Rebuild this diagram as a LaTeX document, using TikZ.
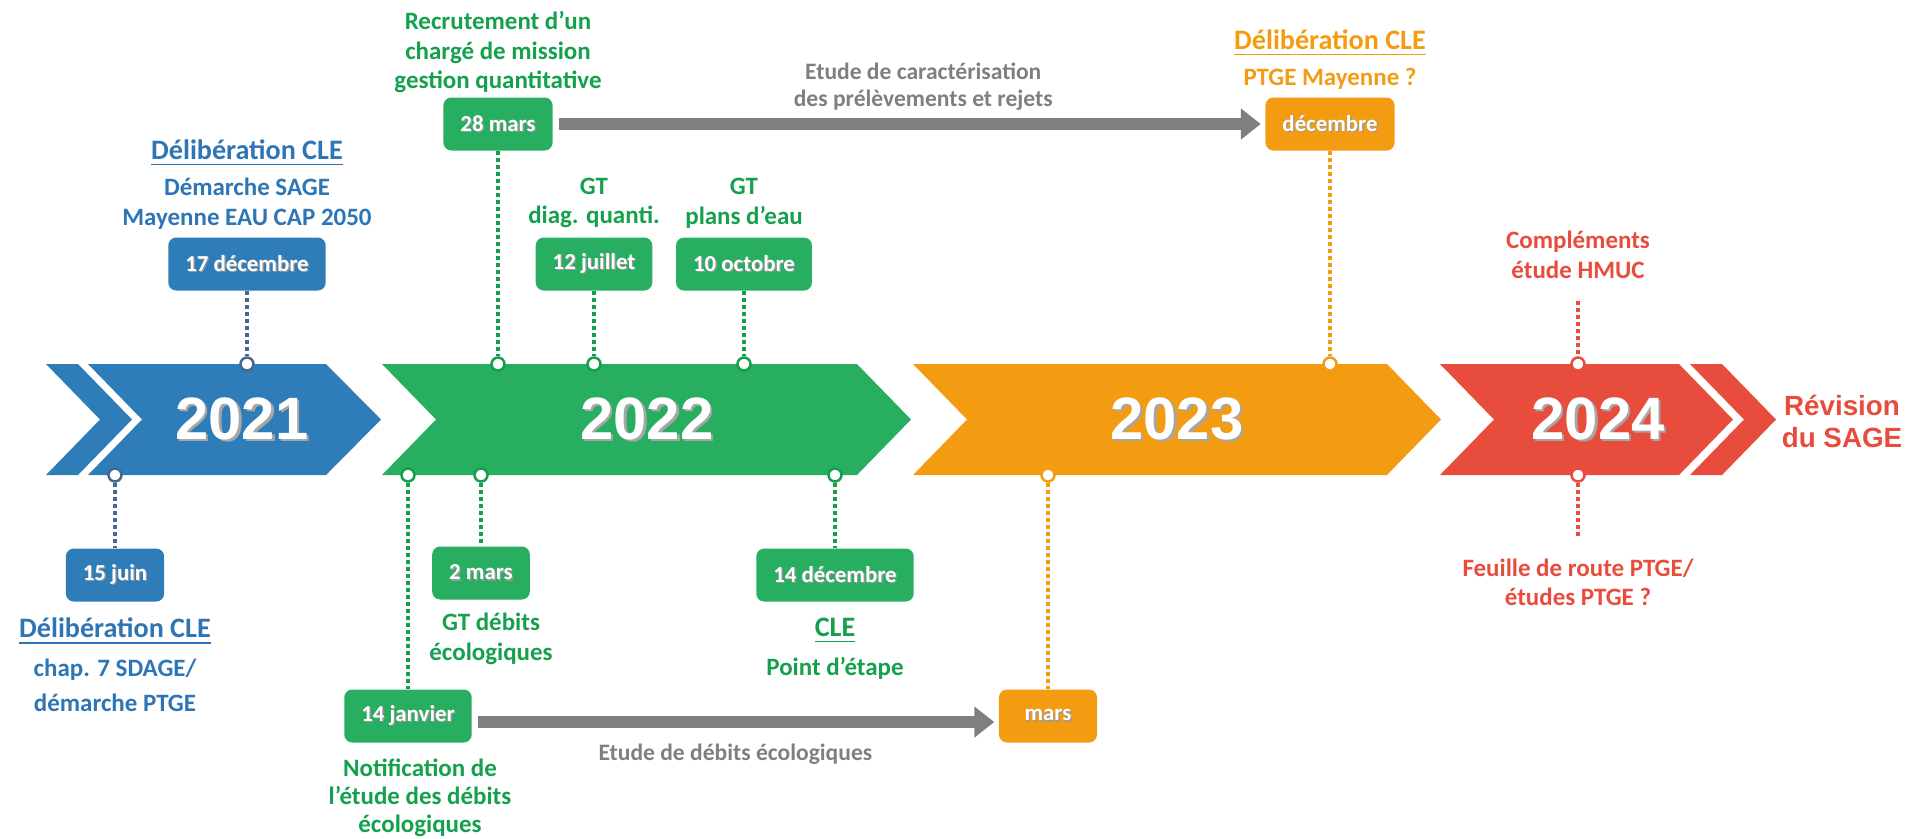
\documentclass[tikz,border=0pt]{standalone}
\usepackage{fontspec}
\setmainfont{Carlito}
\newfontfamily\arialfont{Liberation Sans}
\usetikzlibrary{positioning,arrows.meta}
\definecolor{cblue}{HTML}{2E7DB8}
\definecolor{cbluetxt}{HTML}{2E75B6}
\definecolor{cbluedk}{HTML}{44688F}
\definecolor{cgreen}{HTML}{27AE60}
\definecolor{cgreentxt}{HTML}{14A04C}
\definecolor{corange}{HTML}{F39C12}
\definecolor{cred}{HTML}{E74C3C}
\definecolor{cgray}{HTML}{7F7F7F}
\newcommand\yshadow[1]{\rlap{\kern0.7pt\raisebox{-0.7pt}{\color{black!35}#1}}#1}
\newcommand\bsh[1]{\rlap{\kern0.35pt\raisebox{-0.35pt}{\color{black!40}#1}}#1}

\begin{document}
\begin{tikzpicture}[x=0.01cm, y=-0.01cm,
  yr/.style={text=white, font=\arialfont\bfseries\fontsize{17}{17}\selectfont},
  box/.style={rounded corners=0.08cm, minimum height=0.53cm, minimum width=0.92cm, inner xsep=0.17cm, text=white, font=\bfseries\fontsize{6.5}{7}\selectfont},
  lbl/.style={align=center, inner sep=0, font=\bfseries\fontsize{7.1}{8.4}\selectfont},
  head/.style={inner sep=0, font=\bfseries\fontsize{8}{9}\selectfont},
  gtxt/.style={align=center, inner sep=0, text=cgray, font=\bfseries\fontsize{6.7}{7.6}\selectfont},
  pinpt/.style={circle, fill=white, line width=0.025cm, minimum size=0.13cm, inner sep=0},
  dotln/.style={line width=0.035cm, dash pattern=on 0.04cm off 0.03cm},
  garrow/.style={cgray, line width=0.12cm, -{Triangle[length=0.2cm, width=0.3cm]}, shorten <=0.06cm, shorten >=0.04cm}]
  \useasboundingbox (0,0) rectangle (1909,838);
  \fill[cblue] (46,364) -- (78,364) -- (132,419.5) -- (78,475) -- (46,475) -- (100,419.5) -- cycle;
  \fill[cblue] (88,364) -- (326,364) -- (381,419.5) -- (326,475) -- (88,475) -- (142,419.5) -- cycle;
  \fill[cgreen] (382,364) -- (857,364) -- (911,419.5) -- (857,475) -- (382,475) -- (436,419.5) -- cycle;
  \fill[corange] (913,364) -- (1387,364) -- (1441,419.5) -- (1387,475) -- (913,475) -- (967,419.5) -- cycle;
  \fill[cred] (1440,364) -- (1679,364) -- (1733,419.5) -- (1679,475) -- (1440,475) -- (1494,419.5) -- cycle;
  \fill[cred] (1690,364) -- (1722,364) -- (1776,419.5) -- (1722,475) -- (1690,475) -- (1744,419.5) -- cycle;

  \node[yr] (y21) at (242,420) {\yshadow{2021}};
  \node[yr] (y22) at (647,420) {\yshadow{2022}};
  \node[yr] (y23) at (1177,420) {\yshadow{2023}};
  \node[yr] (y24) at (1598,420) {\yshadow{2024}};
  \node[align=center, text=cred, font=\arialfont\bfseries\fontsize{7.9}{9.1}\selectfont] (rev) at (1842,421) {Révision\\du SAGE};

  \node[pinpt, draw=cbluedk] (p17dec) at (247,364) {};
  \node[pinpt, draw=cbluedk] (p15jun) at (115,475) {};
  \node[pinpt, draw=cgreentxt] (p28mar) at (498,364) {};
  \node[pinpt, draw=cgreentxt] (p12jul) at (594,364) {};
  \node[pinpt, draw=cgreentxt] (p10oct) at (744,364) {};
  \node[pinpt, draw=cgreentxt] (p14jan) at (408,475) {};
  \node[pinpt, draw=cgreentxt] (p2mar) at (481,475) {};
  \node[pinpt, draw=cgreentxt] (p14dec) at (835,475) {};
  \node[pinpt, draw=corange] (pdec23) at (1330,364) {};
  \node[pinpt, draw=corange] (pmar23) at (1048,475) {};
  \node[pinpt, draw=cred] (p24a) at (1578,364) {};
  \node[pinpt, draw=cred] (p24b) at (1578,475) {};

  \node[box, fill=cblue] (b17dec) at (247,264) {\bsh{17 décembre}};
  \node[box, fill=cblue, minimum width=0.98cm] (b15jun) at (115,575) {\bsh{15 juin}};
  \node[box, fill=cgreen] (b28mar) at (498,124) {\bsh{28 mars}};
  \node[box, fill=cgreen] (b12jul) at (594,264) {\bsh{12 juillet}};
  \node[box, fill=cgreen] (b10oct) at (744,264) {\bsh{10 octobre}};
  \node[box, fill=cgreen] (b2mar) at (481,573) {\bsh{2 mars}};
  \node[box, fill=cgreen] (b14jan) at (408,716) {\bsh{14 janvier}};
  \node[box, fill=cgreen] (b14dec) at (835,575) {\bsh{14 décembre}};
  \node[box, fill=corange] (bdec23) at (1330,124) {\bsh{décembre}};
  \node[box, fill=corange, minimum width=0.98cm] (bmar23) at (1048,716) {\bsh{mars}};

  \node[lbl, text=cbluetxt, above=0.07cm of b17dec] (t17dec) {Démarche SAGE\\Mayenne EAU CAP 2050};
  \node[head, text=cbluetxt, above=0.1cm of t17dec] (h17dec) {\underline{Délibération CLE}};
  \node[head, text=cbluetxt, below=0.15cm of b15jun] (h15jun) {\underline{Délibération CLE}};
  \node[lbl, text=cbluetxt, below=0.13cm of h15jun, font=\bfseries\fontsize{7.1}{9.7}\selectfont] (t15jun) {chap. 7 SDAGE/\\démarche PTGE};
  \node[lbl, text=cgreentxt, above=0.03cm of b28mar] (t28mar) {Recrutement d’un\\chargé de mission\\gestion quantitative};
  \node[lbl, text=cgreentxt, above=0.08cm of b12jul] (t12jul) {GT\\diag. quanti.};
  \node[lbl, text=cgreentxt, above=0.08cm of b10oct] (t10oct) {GT\\plans d’eau};
  \node[lbl, text=cgreentxt, below=0.12cm of b2mar, xshift=0.1cm] (t2mar) {GT débits\\écologiques};
  \node[lbl, text=cgreentxt, below=0.15cm of b14jan, xshift=0.12cm, font=\bfseries\fontsize{7.1}{7.9}\selectfont] (t14jan) {Notification de\\l’étude des débits\\écologiques};
  \node[head, text=cgreentxt, below=0.15cm of b14dec] (h14dec) {\underline{CLE}};
  \node[lbl, text=cgreentxt, below=0.12cm of h14dec] (t14dec) {Point d’étape};
  \node[lbl, text=corange, above=0.07cm of bdec23] (tdec23) {PTGE Mayenne ?};
  \node[head, text=corange, above=0.1cm of tdec23] (hdec23) {\underline{Délibération CLE}};
  \coordinate (c24a) at (1578,301);
  \coordinate (c24b) at (1578,536);
  \node[lbl, text=cred, above=0.22cm of c24a] (t24a) {Compléments\\étude HMUC};
  \node[lbl, text=cred, below=0.22cm of c24b] (t24b) {Feuille de route PTGE/\\études PTGE ?};

  \draw[dotln, cbluedk] (b17dec) -- (p17dec);
  \draw[dotln, cbluedk] (p15jun) -- (b15jun);
  \draw[dotln, cgreentxt] (b28mar) -- (p28mar);
  \draw[dotln, cgreentxt] (b12jul) -- (p12jul);
  \draw[dotln, cgreentxt] (b10oct) -- (p10oct);
  \draw[dotln, cgreentxt] (p14jan) -- (b14jan);
  \draw[dotln, cgreentxt] (p2mar) -- (b2mar);
  \draw[dotln, cgreentxt] (p14dec) -- (b14dec);
  \draw[dotln, corange] (bdec23) -- (pdec23);
  \draw[dotln, corange] (pmar23) -- (bmar23);
  \draw[dotln, cred] (c24a) -- (p24a);
  \draw[dotln, cred] (p24b) -- (c24b);

  \draw[garrow] (b28mar) -- node[gtxt, pos=0.52, above=0.08cm] (tcarac) {Etude de caractérisation\\des prélèvements et rejets} (bdec23);
  \draw[garrow] ([yshift=-0.06cm]b14jan.east) -- node[gtxt, below=0.16cm] (tdebit) {Etude de débits écologiques} ([yshift=-0.06cm]bmar23.west);
\end{tikzpicture}
\end{document}
